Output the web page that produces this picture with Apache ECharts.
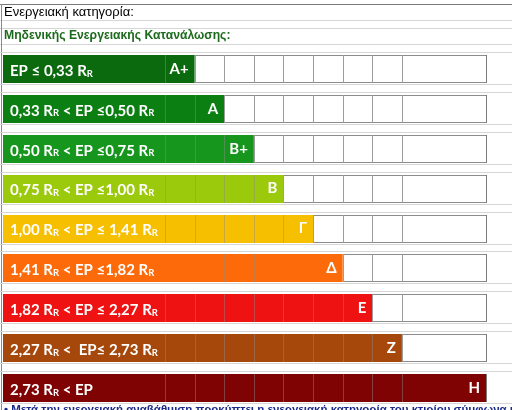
<!DOCTYPE html>
<html>
<head>
<meta charset="utf-8">
<script src="https://cdn.jsdelivr.net/npm/echarts@6/dist/echarts.min.js"></script>
<style>
html,body{margin:0;padding:0;background:#fff;}
#chart{width:512px;height:410px;}
</style>
</head>
<body>
<div id="chart"></div>
<script>
// ---- data ----
const headerTitle = 'Ενεργειακή κατηγορία:';
const subTitle = 'Μηδενικής Ενεργειακής Κατανάλωσης:';
const footNote = '• Μετά την ενεργειακή αναβάθμιση προκύπτει η ενεργειακή κατηγορία του κτιρίου σύμφωνα με την βάθμιση (4η) σύμφωνα';
const rangeLabels = [
  'EP ≤ 0,33 R_R',
  '0,33 R_R < EP ≤0,50 R_R',
  '0,50 R_R < EP ≤0,75 R_R',
  '0,75 R_R < EP ≤1,00 R_R',
  '1,00 R_R < EP ≤ 1,41 R_R',
  '1,41 R_R < EP ≤1,82 R_R',
  '1,82 R_R < EP ≤ 2,27 R_R',
  '2,27 R_R <  EP≤ 2,73 R_R',
  '2,73 R_R < EP'
];
const ratings = ['A+', 'A', 'B+', 'B', 'Γ', 'Δ', 'E', 'Z', 'H'];
const filledCells = [1, 2, 3, 4, 5, 6, 7, 8, 9];
const barColors = ['#0b6a0d', '#0c7f13', '#17961e', '#9bc90c', '#f6bf00', '#fc6a0a', '#ee1212', '#a6480c', '#7f0303'];
// column widths (label column, 8 narrow cells, 1 wide cell) in cell units
const columnWidths = [5.47, 1, 1, 1, 1, 1, 1, 1, 1, 2.84];

// ---- helpers ----
const edges = [0];
columnWidths.forEach(w => edges.push(edges[edges.length - 1] + w));
const totalUnits = edges[edges.length - 1];

function richLabel(s) {
  const parts = s.split('R_R');
  let out = '';
  parts.forEach((p, i) => {
    if (p.length) out += '{m|' + p + '}';
    if (i < parts.length - 1) out += '{m|R}{s|R}';
  });
  return out;
}

const chart = echarts.init(document.getElementById('chart'), null, {renderer: 'canvas'});

function hline(x1, x2, y, color) {
  y = Math.round(y) + 0.5;
  return {type: 'line', shape: {x1: x1, y1: y, x2: x2, y2: y}, style: {stroke: color, lineWidth: 1}, silent: true};
}
function vline(x, y1, y2, color) {
  x = Math.round(x) + 0.5;
  return {type: 'line', shape: {x1: x, y1: y1, x2: x, y2: y2}, style: {stroke: color, lineWidth: 1}, silent: true};
}

function renderItem(params, api) {
  const row = api.value(0);
  const filled = api.value(1);
  const cy = api.coord([0, row])[1];
  const h = 28;
  const top = Math.round(cy - h / 2);
  const bottom = top + h;
  const xs = edges.map(e => api.coord([e, row])[0]);
  const W = api.getWidth();
  const xEnd = xs[1 + filled];
  const xRight = xs[xs.length - 1];
  const children = [];
  children.push(hline(0, W, top - 3, '#d6d6d6'));
  children.push(hline(0, W, bottom + 1, '#d6d6d6'));
  if (xEnd < xRight - 1) {
    children.push(hline(xEnd, xRight, top, '#8c8c8c'));
    children.push(hline(xEnd, xRight, bottom - 1, '#8c8c8c'));
  }
  children.push({
    type: 'rect',
    shape: {x: xs[0], y: top, width: xEnd - xs[0], height: h},
    style: {fill: barColors[params.dataIndex]}
  });
  for (let i = 1; i < xs.length; i++) {
    let c;
    if (i === xs.length - 1) c = '#7a7a7a';
    else if (xs[i] < xEnd - 1) c = 'rgba(140,140,140,0.45)';
    else c = '#9c9c9c';
    children.push(vline(xs[i], top, bottom, c));
  }
  children.push({
    type: 'text',
    style: {
      text: richLabel(rangeLabels[params.dataIndex]),
      x: xs[0] + 7, y: cy + 1,
      align: 'left', verticalAlign: 'middle',
      rich: {
        m: {fontFamily: 'Lato', fontWeight: 'bold', fontSize: 15, fill: '#ffffff', verticalAlign: 'bottom', lineHeight: 17},
        s: {fontFamily: 'Lato', fontWeight: 'bold', fontSize: 9.5, fill: '#ffffff', verticalAlign: 'bottom', lineHeight: 14}
      }
    }
  });
  children.push({
    type: 'text',
    style: {
      text: ratings[params.dataIndex],
      x: xEnd - 6, y: cy,
      align: 'right', verticalAlign: 'middle',
      fontFamily: 'Lato', fontWeight: 'bold', fontSize: 15, fill: '#ffffff'
    }
  });
  return {type: 'group', children: children};
}

const option = {
  animation: false,
  backgroundColor: '#ffffff',
  grid: {left: 3, right: 26, top: 49, bottom: 2},
  xAxis: {type: 'value', min: 0, max: totalUnits, show: false},
  yAxis: {type: 'category', data: ratings, inverse: true, show: false},
  graphic: [
    hline(0, 512, 4, '#7a7a7a'),
    hline(0, 512, 20, '#d6d6d6'),
    hline(0, 512, 28, '#d6d6d6'),
    hline(0, 512, 44, '#d6d6d6'),
    vline(1, 4, 410, '#8a8a8a'),
    {type: 'text', left: 4, top: 6, style: {text: headerTitle, fontFamily: 'Liberation Sans', fontSize: 13, fill: '#000000'}},
    {type: 'text', left: 4, top: 30, style: {text: subTitle, fontFamily: 'Liberation Sans', fontWeight: 'bold', fontSize: 12.2, fill: '#1c6a1c'}},
    {type: 'text', left: 4, top: 404, style: {text: footNote, fontFamily: 'Liberation Sans', fontWeight: 'bold', fontSize: 11.5, fill: '#1a2a8a'}}
  ],
  series: [{
    type: 'custom',
    renderItem: renderItem,
    encode: {x: 1, y: 0},
    data: filledCells.map((v, i) => [i, v])
  }]
};
chart.setOption(option);
</script>
</body>
</html>
